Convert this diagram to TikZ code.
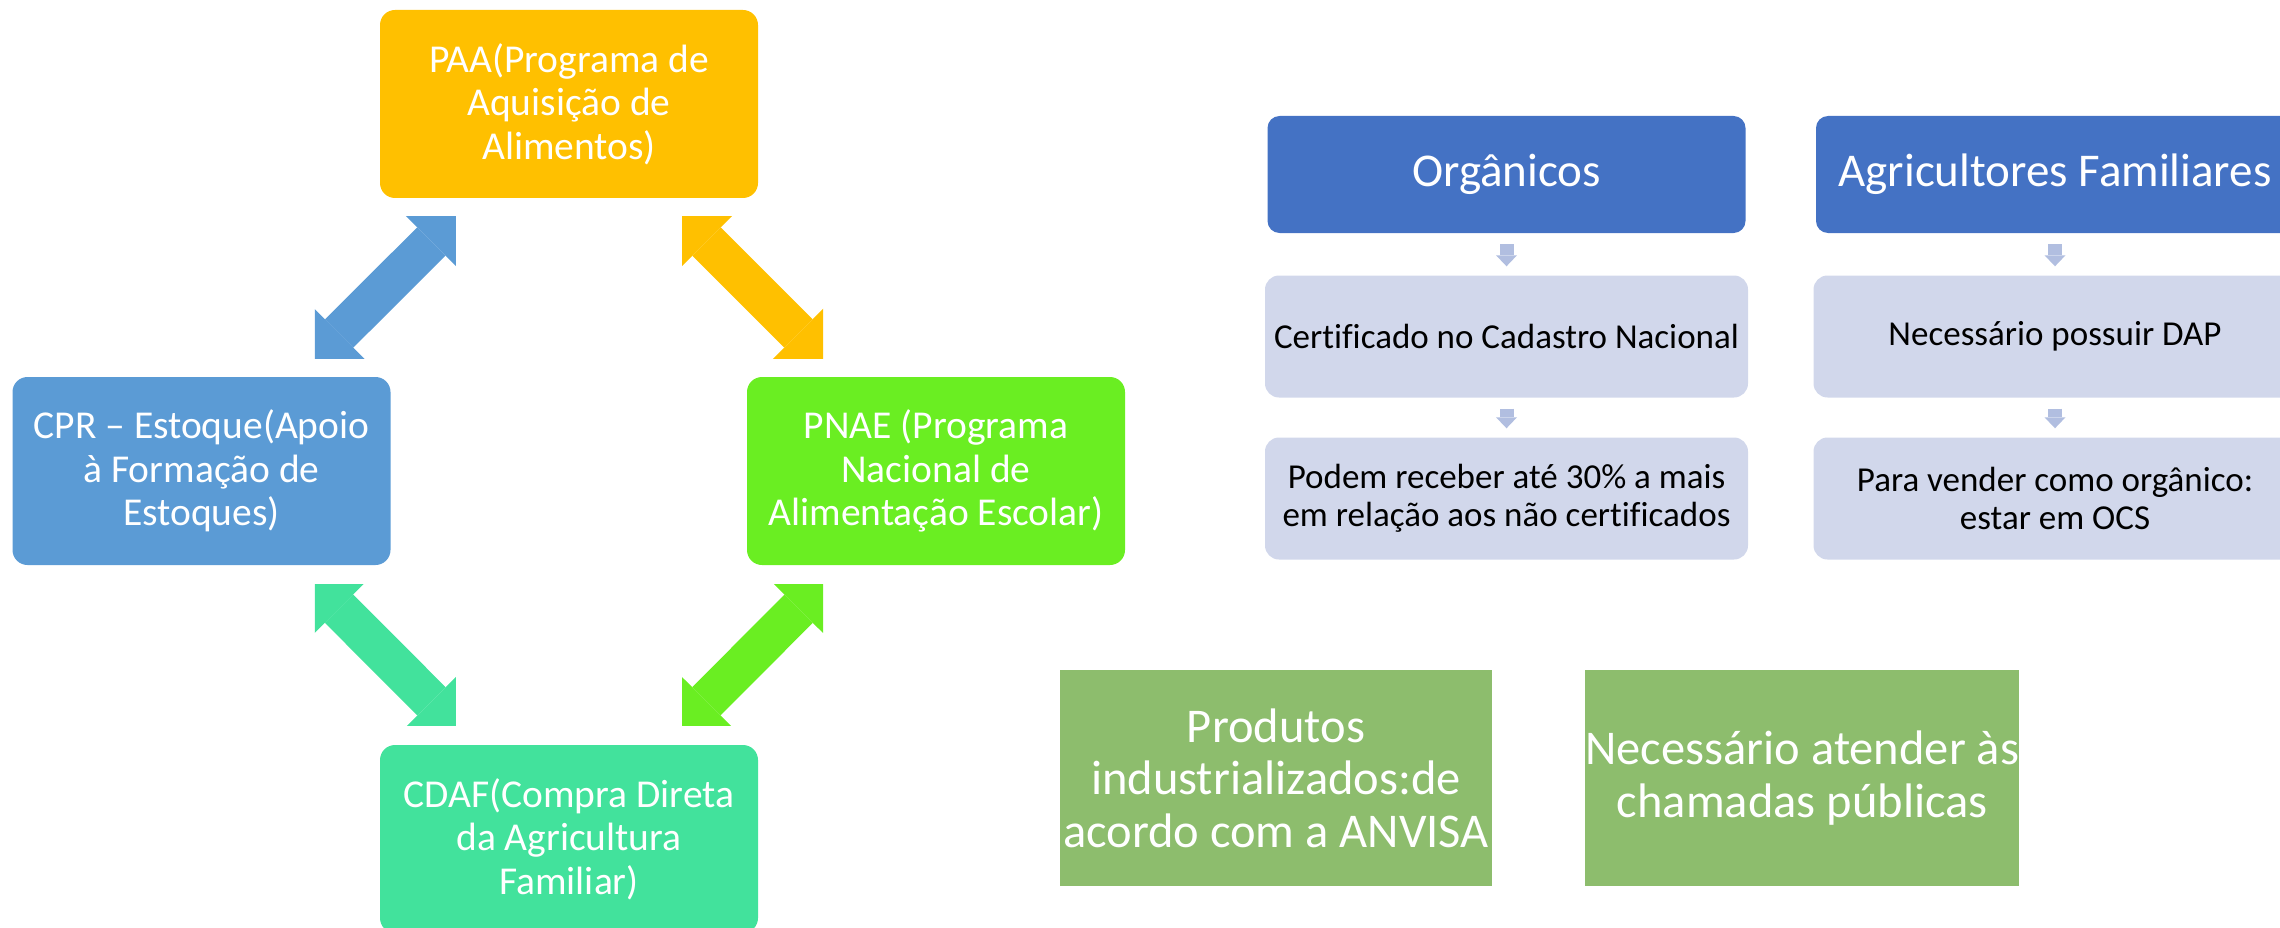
\documentclass[tikz,border=0pt]{standalone}
\usepackage{fontspec}
\setmainfont{Carlito}[Ligatures=CommonOff]
\usetikzlibrary{arrows.meta,calc,positioning}

\definecolor{paaorange}{HTML}{FFC000}
\definecolor{cprblue}{HTML}{5B9BD5}
\definecolor{pnaegreen}{HTML}{6AEE22}
\definecolor{cdafteal}{HTML}{42E29C}
\definecolor{headblue}{HTML}{4472C4}
\definecolor{infogray}{HTML}{D1D7EB}
\definecolor{smallarrowblue}{HTML}{B1BEE0}
\definecolor{notegreen}{HTML}{8DBD6D}

\tikzset{
  cyctip/.tip={Triangle[width=90pt,length=45pt,line width=0pt]},
  smalltip/.tip={Triangle[width=21pt,length=11pt,line width=0pt]}
}

\begin{document}
\begin{tikzpicture}[x=1pt,y=-1pt,node distance=162pt]
      \tikzstyle{cycbox} = [rectangle, rounded corners=15pt, minimum width=378pt, minimum height=188pt, inner sep=0pt, align=center, text=white, font=\fontsize{39.5}{43.5}\selectfont]
      \tikzstyle{headbox} = [rectangle, rounded corners=12pt, fill=headblue, minimum width=478pt, minimum height=117pt, inner sep=0pt, text=white, font=\fontsize{47}{52}\selectfont]
      \tikzstyle{infobox} = [rectangle, rounded corners=14pt, fill=infogray, minimum width=483pt, minimum height=122pt, inner sep=0pt, align=center, text=black, font=\fontsize{35}{38}\selectfont]
      \tikzstyle{notebox} = [rectangle, fill=notegreen, minimum width=432pt, minimum height=216pt, inner sep=0pt, align=center, text=white, font=\fontsize{48.5}{52.5}\selectfont]
      \tikzstyle{cycarrow} = [line width=40pt, cyctip-cyctip, shorten <=149.5pt, shorten >=149.5pt]
      \tikzstyle{smallarrow} = [line width=14pt, -smalltip, color=smallarrowblue, shorten <=11pt, shorten >=9pt]

      \useasboundingbox (0,0) rectangle (2280,928);
      \clip (0,0) rectangle (2280,928);

      % cycle of programmes
      \node (paa) [cycbox, fill=paaorange] at (569,104) {PAA(Programa de\\Aquisição de\\Alimentos)};
      \node (cpr) [cycbox, fill=cprblue] at (201.5,471) {CPR – Estoque(Apoio\\à Formação de\\Estoques)};
      \node (pnae) [cycbox, fill=pnaegreen] at (936,471) {PNAE (Programa\\Nacional de\\Alimentação Escolar)};
      \node (cdaf) [cycbox, fill=cdafteal] at (569,839) {CDAF(Compra Direta\\da Agricultura\\Familiar)};

      \begin{scope}
        \clip ($(paa)!0.5!(cpr)$) ++(-70.5,-70.5) rectangle ++(141,141);
        \draw [cycarrow, color=cprblue] (paa.center) -- (cpr.center);
      \end{scope}
      \begin{scope}
        \clip ($(paa)!0.5!(pnae)$) ++(-70.5,-70.5) rectangle ++(141,141);
        \draw [cycarrow, color=paaorange] (paa.center) -- (pnae.center);
      \end{scope}
      \begin{scope}
        \clip ($(cpr)!0.5!(cdaf)$) ++(-70.5,-70.5) rectangle ++(141,141);
        \draw [cycarrow, color=cdafteal] (cpr.center) -- (cdaf.center);
      \end{scope}
      \begin{scope}
        \clip ($(pnae)!0.5!(cdaf)$) ++(-70.5,-70.5) rectangle ++(141,141);
        \draw [cycarrow, color=pnaegreen] (pnae.center) -- (cdaf.center);
      \end{scope}

      % requirements
      \node (org) [headbox] at (1506.5,174.5) {Orgânicos};
      \node (cert) [infobox, below of=org] {Certificado no Cadastro Nacional};
      \node (podem) [infobox, below of=cert] {Podem receber até 30\% a mais\\em relação aos não certificados};
      \node (agri) [headbox, right of=org, xshift=386.5pt] {Agricultores Familiares};
      \node (dap) [infobox, below of=agri] {Necessário possuir DAP};
      \node (ocs) [infobox, below of=dap] {Para vender como orgânico:\\estar em OCS};

      \draw [smallarrow] (org) -- (cert);
      \draw [smallarrow] (cert) -- (podem);
      \draw [smallarrow] (agri) -- (dap);
      \draw [smallarrow] (dap) -- (ocs);

      \node (anvisa) [notebox] at (1276,778) {Produtos\\industrializados:de\\acordo com a ANVISA};
      \node (chamadas) [notebox, right=93pt of anvisa] {Necessário atender às\\chamadas públicas};
    \end{tikzpicture}
\end{document}
